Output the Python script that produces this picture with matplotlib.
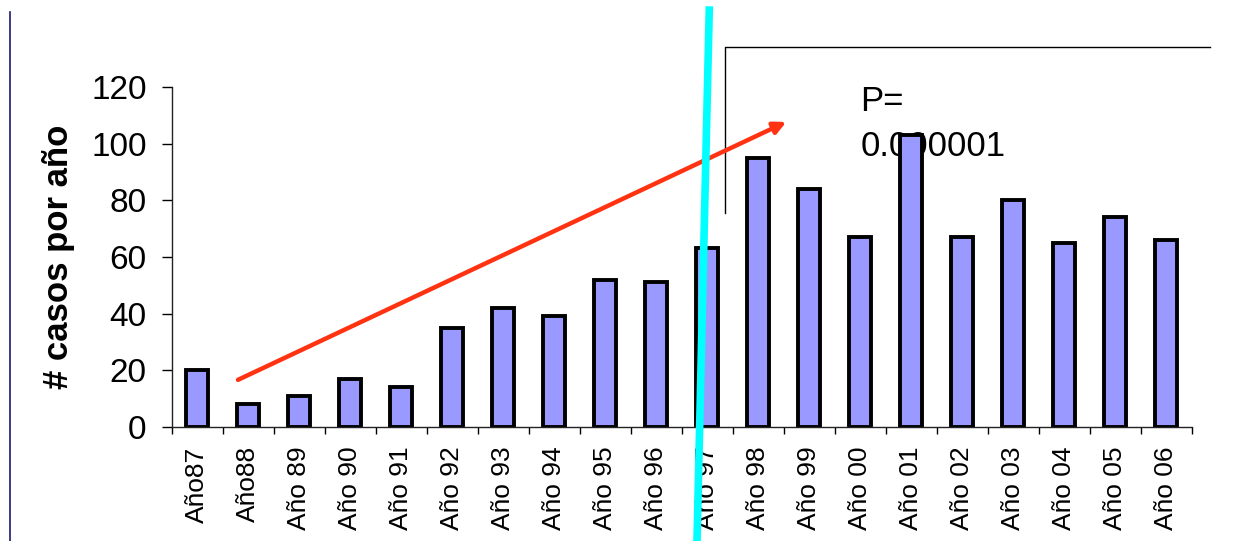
import matplotlib.pyplot as plt
from matplotlib.lines import Line2D
import numpy as np

plt.rcParams['font.family'] = ['Liberation Sans', 'DejaVu Sans']

# data
years = ['Año87', 'Año88', 'Año 89', 'Año 90', 'Año 91', 'Año 92', 'Año 93',
         'Año 94', 'Año 95', 'Año 96', 'Año 97', 'Año 98', 'Año 99', 'Año 00',
         'Año 01', 'Año 02', 'Año 03', 'Año 04', 'Año 05', 'Año 06']
cases = [20, 8, 11, 17, 14, 35, 42, 39, 52, 51,
         63, 95, 84, 67, 103, 67, 80, 65, 74, 66]
y_ticks = [0, 20, 40, 60, 80, 100, 120]
p_label = 'P='
p_value = '0.000001'

def main():
    fig = plt.figure(figsize=(12.44, 5.41), dpi=100)
    ax = fig.add_axes([0.138, 0.211, 0.82, 0.628])
    x = np.arange(len(years))

    ax.bar(x, cases, width=0.44, color='#9999ff', edgecolor='black',
           linewidth=2.8, zorder=2)

    ax.set_xlim(-0.5, len(years) - 0.5)
    ax.set_ylim(0, 120)
    ax.set_yticks(y_ticks)
    ax.tick_params(axis='y', labelsize=24, length=7, width=1, pad=11)

    # ticks sit between the categories, labels under the bars
    ax.set_xticks(np.arange(-0.5, len(years)), minor=False)
    ax.set_xticklabels([])
    ax.set_xticks(x, minor=True)
    ax.set_xticklabels(years, minor=True, rotation=90, fontsize=19)
    ax.tick_params(axis='x', which='major', length=5, width=1)
    ax.tick_params(axis='x', which='minor', length=0, pad=14)

    for s in ['top', 'right']:
        ax.spines[s].set_visible(False)
    for s in ['left', 'bottom']:
        ax.spines[s].set_linewidth(1)
        ax.spines[s].set_color('#222222')

    ax.set_ylabel('# casos por año', fontsize=25, fontweight='bold', labelpad=12)

    # trend arrow
    ax.annotate('', xy=(11.55, 107.7), xytext=(0.8, 16.6),
                arrowprops=dict(arrowstyle='-|>', color='#ff3311', lw=3.2,
                                mutation_scale=18, shrinkA=0, shrinkB=0),
                annotation_clip=False, zorder=4)

    # bracket for the p-value
    ax.plot([10.35, 10.35, 19.86], [75.5, 134, 134], color='black', lw=1,
            clip_on=False, zorder=3)
    ax.text(13.0, 111.5, p_label, fontsize=25, ha='left', va='baseline',
            zorder=1)
    ax.text(13.0, 95.6, p_value, fontsize=25, ha='left', va='baseline',
            zorder=1)

    # cyan divider between 96 and 97
    ax.plot([10.04, 9.8], [147.2, -40.2], color='#00ffff', lw=5.5,
            clip_on=False, zorder=5)

    # slide edge on the left
    fig.add_artist(Line2D([0.008, 0.008], [0.0, 0.978], color='#1a1a70',
                          lw=1.2, transform=fig.transFigure))

    fig.savefig('out.png', dpi=100)

main()
